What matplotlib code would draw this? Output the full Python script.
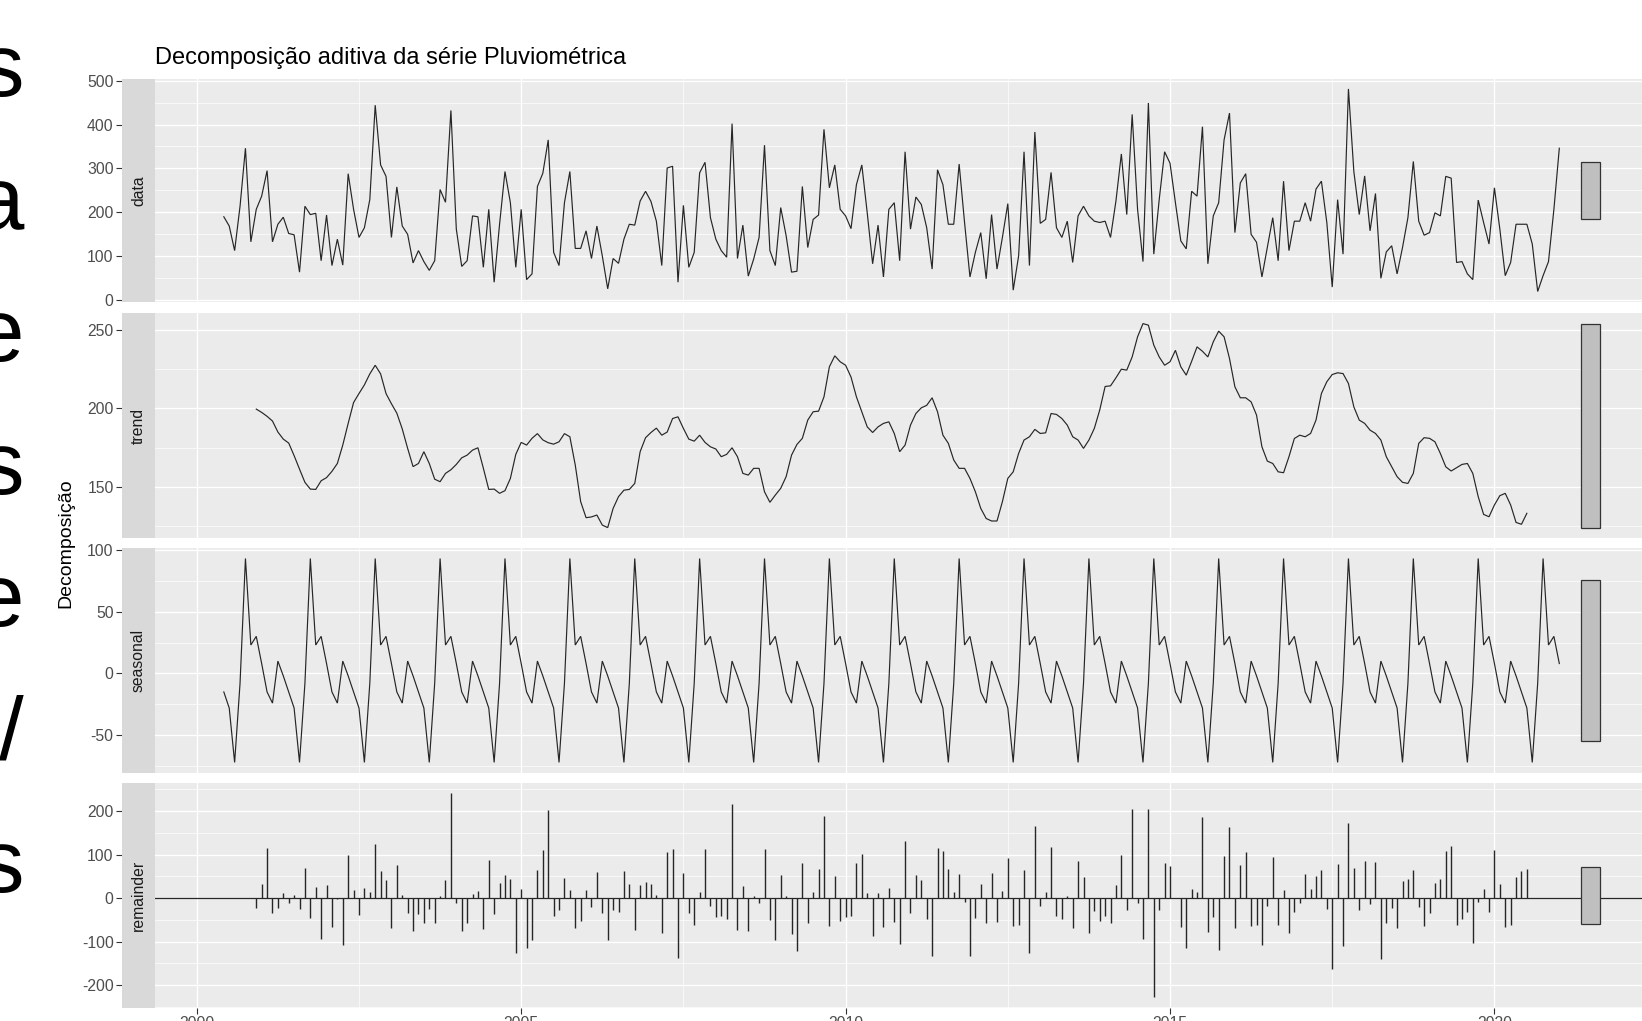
import numpy as np
import matplotlib
matplotlib.use("Agg")
import matplotlib.pyplot as plt
from matplotlib.patches import Rectangle
from matplotlib.ticker import MultipleLocator, FixedLocator

plt.rcParams['font.family'] = ['Liberation Sans', 'DejaVu Sans']
plt.rcParams['axes.unicode_minus'] = False

# ---------------- data ----------------
title = "Decomposição aditiva da série Pluviométrica"
y_title = "Decomposição"
panel_names = ["data", "trend", "seasonal", "remainder"]
side_letters = ["s", "a", "e", "s", "e", "/", "s"]
x_tick_labels = ["2000", "2005", "2010", "2015", "2020"]

start_year = 2000
start_month = 6          # first observation: June 2000 (monthly series)

data_mm = [
    190, 169, 113, 214, 346, 133, 207, 237, 295, 133,
    173, 189, 152, 149, 64, 214, 195, 198, 90, 194,
    79, 139, 80, 288, 207, 143, 165, 229, 444, 308,
    282, 143, 258, 169, 150, 85, 113, 88, 68, 90,
    252, 223, 432, 162, 77, 90, 192, 190, 75, 207,
    41, 173, 293, 222, 75, 207, 47, 60, 259, 289,
    365, 109, 79, 222, 293, 118, 118, 158, 95, 169,
    101, 26, 95, 84, 139, 173, 171, 226, 248, 225,
    180, 79, 301, 305, 41, 216, 75, 109, 290, 314,
    188, 139, 113, 98, 402, 95, 171, 55, 94, 143,
    353, 113, 79, 211, 147, 64, 66, 259, 120, 184,
    194, 389, 256, 308, 207, 192, 163, 263, 308, 199,
    83, 171, 53, 207, 222, 90, 338, 162, 235, 218,
    165, 71, 297, 263, 173, 173, 310, 177, 53, 109,
    154, 49, 195, 71, 143, 220, 23, 101, 338, 79,
    383, 175, 184, 291, 165, 143, 180, 86, 192, 214,
    192, 180, 177, 180, 143, 226, 333, 195, 423, 207,
    88, 449, 105, 229, 338, 312, 222, 135, 117, 248,
    237, 395, 83, 192, 222, 365, 426, 154, 267, 288,
    150, 132, 53, 120, 188, 90, 271, 113, 180, 180,
    222, 180, 253, 271, 177, 30, 229, 105, 481, 293,
    195, 283, 158, 243, 50, 110, 124, 60, 120, 188,
    316, 180, 148, 154, 199, 192, 282, 278, 86, 88,
    60, 47, 228, 177, 128, 256, 162, 56, 86, 173,
    173, 173, 128, 20, 56, 88, 207, 346,
]

trend_offset = 6         # trend starts 6 months after the data (Dec 2000)
trend_mm = [
    199.6, 197.5, 195, 192, 185, 180.5, 178, 170, 161.4, 153,
    148.7, 148.5, 154, 156, 160, 165, 176.7, 190.5, 203.8, 209.5,
    215, 222, 227.5, 222, 209.5, 203, 197, 187, 174.6, 163,
    165, 172.5, 165, 155, 153.4, 158.7, 161, 164.4, 168.6, 170.3,
    173.5, 175, 162, 148.5, 148.7, 146, 147.7, 155.5, 170.8, 178.4,
    176.7, 181, 184, 180, 178.2, 177.3, 178.8, 184, 182, 164,
    140.7, 130.5, 131, 132.2, 125.8, 124.2, 136.4, 143.9, 148, 148.5,
    152.3, 172.5, 181.4, 184.7, 187.5, 183, 185, 193.6, 194.7, 187.3,
    180.5, 179.2, 183, 178.4, 175.6, 174.2, 169.3, 170.8, 175, 169.3,
    158.7, 157.6, 161.9, 161.9, 147, 140.3, 144.9, 149.2, 156.6, 170.3,
    177.1, 181, 192.6, 197.9, 198.3, 207.4, 226.5, 233.5, 229.7, 227.5,
    220, 207.4, 197.9, 188.3, 184.7, 188.3, 190.5, 191.5, 184.1, 172.5,
    176.7, 189.4, 196.8, 200.4, 202, 206.8, 197.9, 183, 177.8, 167.2,
    161.9, 161.9, 155.5, 147, 136.4, 130, 128.4, 128.4, 140.7, 155.5,
    159.7, 171.4, 179.9, 182, 186.7, 184.1, 184.5, 196.8, 196.2, 193.6,
    189.4, 182, 179.9, 174.6, 179.9, 187.3, 199, 214, 214.4, 219.5,
    225, 224.4, 232.8, 245.6, 254, 253, 240.3, 232.8, 227.5, 229.7,
    237, 226.5, 221.2, 230, 239.2, 236.4, 232.8, 242.4, 249.2, 245.6,
    231.8, 213.8, 206.8, 206.8, 204.2, 195.8, 175.6, 166.5, 165, 159.7,
    159.1, 169.3, 180.9, 183, 182, 184.1, 192.6, 209.5, 217, 221.6,
    222.7, 222.2, 215.9, 201, 192.6, 190.5, 186.2, 184.1, 179.9, 169.3,
    162.9, 156.6, 153, 152.3, 158.7, 177.8, 181.4, 181, 178.8, 171.4,
    162.9, 160.2, 162.3, 164.4, 165, 158.7, 143.9, 132.6, 131.1, 138.6,
    144.5, 146, 138.6, 127.5, 126.3, 133.3,
]

# seasonal effect by calendar month, Jan..Dec
seasonal_by_month = [8, -15, -24, 10, -2, -15, -28, -72, -8, 93, 23, 30]

# ---------------- build series ----------------
n = len(data_mm)
month_idx = (start_month - 1 + np.arange(n))
t = start_year + month_idx / 12.0
data = np.array(data_mm, dtype=float)
trend = np.full(n, np.nan)
trend[trend_offset:trend_offset + len(trend_mm)] = trend_mm
seasonal = np.array(seasonal_by_month, dtype=float)[month_idx % 12]
remainder = data - trend - seasonal
series = [data, trend, seasonal, remainder]

# ---------------- figure layout (pixels) ----------------
W, H, DPI = 1642, 1021, 100
fig = plt.figure(figsize=(W / DPI, H / DPI), dpi=DPI)
fig.patch.set_facecolor("white")

LEFT, RIGHT = 155, 1669
STRIP_W = 33
panel_px = [(78.8, 301.6), (313.4, 537.8), (548.3, 772.6), (782.9, 1007.7)]
major_steps = [100, 50, 50, 100]

PANEL_BG = "#EBEBEB"
STRIP_BG = "#D9D9D9"
LINE_C = "#262626"
TICK_C = "#4D4D4D"


def px_axes(l, top, r, bottom, **kw):
    return fig.add_axes([l / W, 1 - bottom / H, (r - l) / W, (bottom - top) / H], **kw)


# x range including the range bars, with 5% expansion
bar_x0 = t[-1] + 0.33
bar_x1 = t[-1] + 0.63
xr = bar_x1 - t[0]
xlim = (t[0] - 0.05 * xr, bar_x1 + 0.05 * xr)

ranges = [(np.nanmin(s), np.nanmax(s)) for s in series]
bar_len = min(hi - lo for lo, hi in ranges)

axes = []
for k, (top, bot) in enumerate(panel_px):
    ax = px_axes(LEFT, top, RIGHT, bot)
    axes.append(ax)
    ax.set_facecolor(PANEL_BG)
    for sp in ax.spines.values():
        sp.set_visible(False)
    ax.spines["left"].set_position(("outward", STRIP_W * 72 / DPI))
    lo, hi = ranges[k]
    ex = 0.05 * (hi - lo)
    ax.set_ylim(lo - ex, hi + ex)
    ax.set_xlim(*xlim)
    step = major_steps[k]
    ax.yaxis.set_major_locator(MultipleLocator(step))
    ax.yaxis.set_minor_locator(MultipleLocator(step / 2))
    ax.xaxis.set_major_locator(MultipleLocator(5))
    ax.xaxis.set_minor_locator(MultipleLocator(2.5))
    ax.grid(which="major", color="white", lw=0.95)
    ax.grid(which="minor", color="white", lw=0.5)
    ax.set_axisbelow(True)
    ax.tick_params(axis="y", which="major", length=4, width=0.8, color="#333333",
                   labelsize=11.3, labelcolor=TICK_C, pad=2)
    ax.tick_params(which="minor", length=0)
    if k < 3:
        ax.tick_params(axis="x", which="both", length=0, labelbottom=False)
    else:
        ax.tick_params(axis="x", which="major", length=4, width=0.8, color="#333333",
                       labelsize=11.3, labelcolor=TICK_C, pad=2)
        ax.xaxis.set_major_locator(FixedLocator([int(s) for s in x_tick_labels]))
        ax.set_xticklabels(x_tick_labels)

    s = series[k]
    if k < 3:
        ax.plot(t, s, color=LINE_C, lw=0.85, solid_joinstyle="miter")
    else:
        ok = ~np.isnan(s)
        ax.vlines(t[ok], 0, s[ok], colors=LINE_C, lw=1.0)
        ax.axhline(0, color=LINE_C, lw=0.9)

    centre = (lo + hi) / 2
    ax.add_patch(Rectangle((bar_x0, centre - bar_len / 2), bar_x1 - bar_x0, bar_len,
                           facecolor="#BFBFBF", edgecolor="#333333", lw=0.9, zorder=3))

    # strip on the left
    sax = px_axes(LEFT - STRIP_W, top, LEFT, bot)
    sax.set_facecolor(STRIP_BG)
    sax.set_xticks([])
    sax.set_yticks([])
    for sp in sax.spines.values():
        sp.set_visible(False)
    sax.text(0.5, 0.5, panel_names[k], rotation=90, ha="center", va="center",
             fontsize=11.3, color="#1A1A1A", transform=sax.transAxes)

# titles
fig.text(155 / W, 1 - 64 / H, title, fontsize=17, ha="left", va="baseline", color="black")
fig.text(66 / W, 1 - 543 / H, y_title, fontsize=14, rotation=90, ha="center",
         va="center", color="black")

# clipped slide letters on the far left
for j, ch in enumerate(side_letters):
    base = 96 + 132.6 * j
    fig.text(24 / W, 1 - base / H, ch, fontsize=64, ha="right", va="baseline", color="black")

fig.savefig("out.png", dpi=DPI, facecolor="white")
